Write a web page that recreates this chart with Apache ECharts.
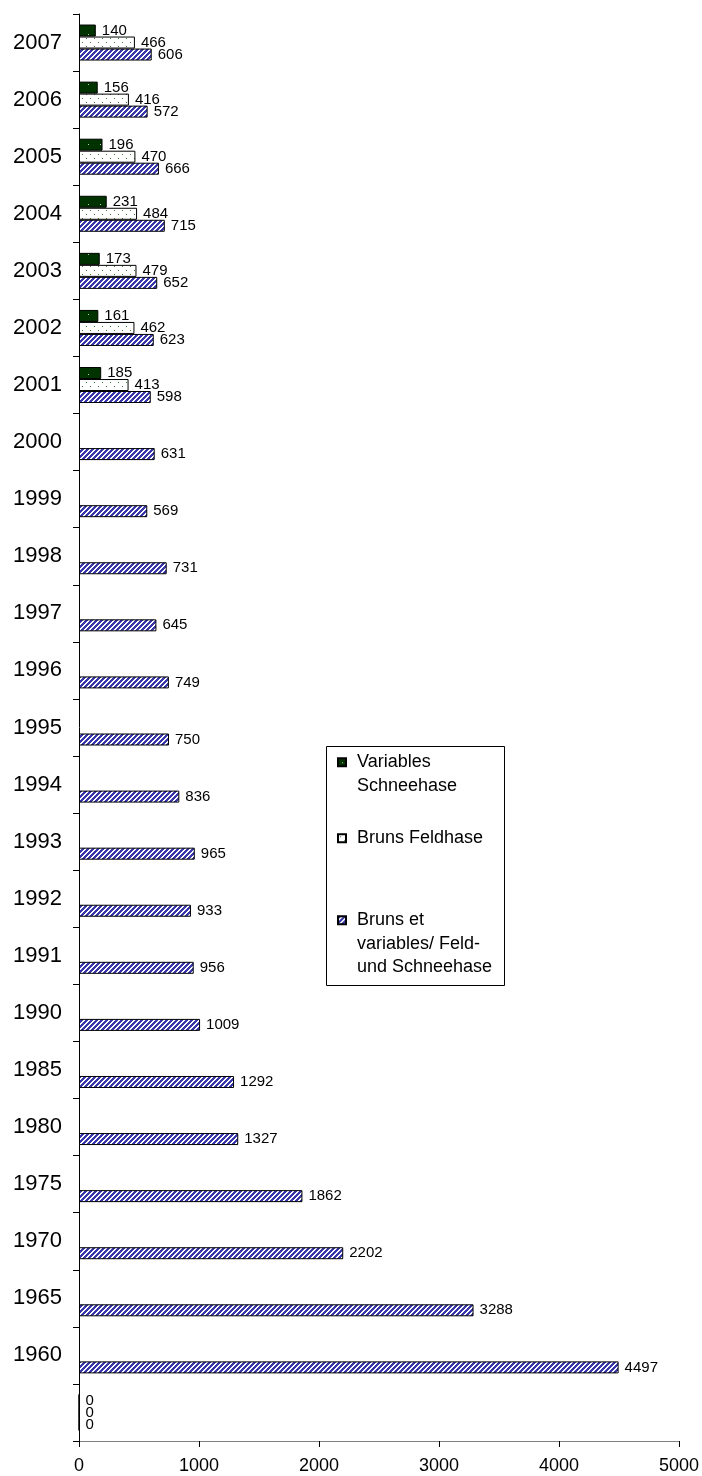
<!DOCTYPE html>
<html>
<head>
<meta charset="utf-8">
<script src="https://cdn.jsdelivr.net/npm/echarts@6/dist/echarts.min.js"></script>
<style>
  html, body { margin: 0; padding: 0; background: #fff; }
  #myChart { width: 702px; height: 1476px; }
</style>
</head>
<body>
<div id="myChart"></div>
<script>
// categories, top to bottom (last one is the empty row with the 0 labels)
var years = ['2007', '2006', '2005', '2004', '2003', '2002', '2001',
  '2000', '1999', '1998', '1997', '1996', '1995', '1994', '1993', '1992', '1991', '1990',
  '1985', '1980', '1975', '1970', '1965', '1960', ''];
var seriesNames = ['Variables Schneehase', 'Bruns Feldhase', 'Bruns et variables/ Feld- und Schneehase'];
var legendLines = [['Variables', 'Schneehase'], ['Bruns Feldhase'], ['Bruns et', 'variables/ Feld-', 'und Schneehase']];
var schneehase = [140, 156, 196, 231, 173, 161, 185,
  null, null, null, null, null, null, null, null, null, null, null,
  null, null, null, null, null, null, 0];
var feldhase = [466, 416, 470, 484, 479, 462, 413,
  null, null, null, null, null, null, null, null, null, null, null,
  null, null, null, null, null, null, 0];
var beide = [606, 572, 666, 715, 652, 623, 598,
  631, 569, 731, 645, 749, 750, 836, 965, 933, 956, 1009,
  1292, 1327, 1862, 2202, 3288, 4497, 0];
var xTicks = [0, 1000, 2000, 3000, 4000, 5000];

// kleine Kacheln fuer die Fuellmuster
function tile(w, h, bg, fg, test) {
  var c = document.createElement('canvas');
  c.width = w; c.height = h;
  var ctx = c.getContext('2d');
  ctx.fillStyle = bg;
  ctx.fillRect(0, 0, w, h);
  ctx.fillStyle = fg;
  for (var y = 0; y < h; y++) {
    for (var x = 0; x < w; x++) {
      if (test(x, y)) ctx.fillRect(x, y, 1, 1);
    }
  }
  return { image: c, repeat: 'repeat' };
}
var greenDots = tile(12, 10, '#003300', '#b0d0b0', function (x, y) { return x === 4 && y === 4; });
var whiteDots = tile(8, 8, '#ffffff', '#3a7a3a', function (x, y) { return (x === 2 && y === 2) || (x === 6 && y === 6); });
var hatch = tile(5, 5, '#ffffff', '#3838aa', function (x, y) { return (x + y) % 5 < 3; });

var font = "'Liberation Sans', Arial, sans-serif";
var lh = 23.5;
// Leerzeilen oben/unten, damit das Symbol auf der ersten Textzeile sitzt
var padTop = [42.5, 0, 48.5];
var padBottom = [19, 0, 1.5];

function barSeries(name, data, fill) {
  return {
    name: name,
    type: 'bar',
    data: data,
    barWidth: 12,
    barGap: '0%',
    itemStyle: { color: fill, borderColor: '#000', borderWidth: 1 },
    label: {
      show: true,
      position: 'right',
      distance: 6,
      color: '#000',
      fontSize: 15,
      fontFamily: font
    }
  };
}

var rich = {};
for (var i = 0; i < 3; i++) {
  rich['t' + i] = { height: padTop[i] || 1, lineHeight: padTop[i] || 1, fontSize: 1 };
  rich['b' + i] = { height: padBottom[i] || 1, lineHeight: padBottom[i] || 1, fontSize: 1 };
  rich['x' + i] = { color: '#000', fontSize: 18, fontFamily: font, lineHeight: lh, padding: [0, 0, 0, 6] };
}

var myChart = echarts.init(document.getElementById('myChart'));
var option = {
  animation: false,
  backgroundColor: '#fff',
  grid: { left: 79, right: 23, top: 14, bottom: 35 },
  xAxis: {
    type: 'value',
    min: xTicks[0],
    max: xTicks[xTicks.length - 1],
    interval: 1000,
    axisLine: { show: true, lineStyle: { color: '#808080', width: 1 } },
    axisTick: { show: true, length: 6, lineStyle: { color: '#000' } },
    axisLabel: {
      color: '#000', fontSize: 18, fontFamily: font, margin: 16,
      formatter: function (v) { return String(v); }
    },
    splitLine: { show: false }
  },
  yAxis: {
    type: 'category',
    data: years,
    inverse: true,
    axisLine: { show: true, lineStyle: { color: '#000', width: 1 } },
    axisTick: { show: true, length: 6, lineStyle: { color: '#000' } },
    axisLabel: { color: '#000', fontSize: 22, fontFamily: font, margin: 17 }
  },
  legend: {
    orient: 'vertical',
    left: 337,
    top: 708,
    padding: 0,
    itemGap: 10,
    itemWidth: 8,
    itemHeight: 8,
    icon: 'rect',
    data: seriesNames,
    textStyle: { color: '#000', fontSize: 18, fontFamily: font, lineHeight: lh, rich: rich },
    formatter: function (name) {
      var k = seriesNames.indexOf(name);
      var body = legendLines[k].map(function (s) { return '{x' + k + '|' + s + '}'; }).join('\n');
      var out = body;
      if (padTop[k]) out = '{t' + k + '| }\n' + out;
      if (padBottom[k]) out = out + '\n{b' + k + '| }';
      return out;
    }
  },
  graphic: [{
    type: 'rect',
    z: 0,
    shape: { x: 326.5, y: 746.5, width: 178, height: 239 },
    style: { fill: '#fff', stroke: '#000', lineWidth: 1 }
  }],
  series: [
    barSeries(seriesNames[0], schneehase, greenDots),
    barSeries(seriesNames[1], feldhase, whiteDots),
    barSeries(seriesNames[2], beide, hatch)
  ]
};
myChart.setOption(option);
</script>
</body>
</html>
